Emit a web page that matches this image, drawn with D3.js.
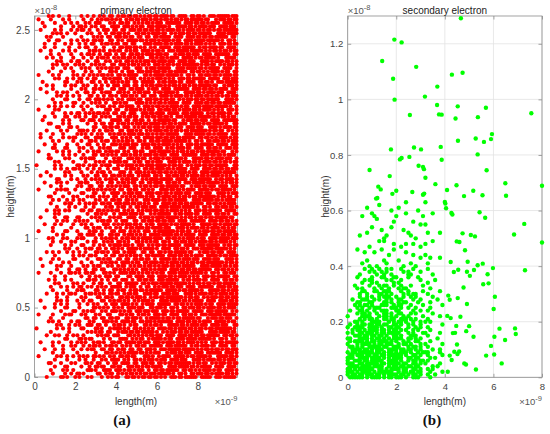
<!DOCTYPE html>
<html>
<head>
<meta charset="utf-8">
<script src="https://cdnjs.cloudflare.com/ajax/libs/d3/7.8.5/d3.min.js"></script>
<style>
  body { margin: 0; background: #fff; }
</style>
</head>
<body>
<svg id="fig" width="550" height="434"></svg>
<script>
/////////////////////////////////////////////////
// data /////////////////////////////////////////
/////////////////////////////////////////////////

// primary electron: occupancy, one hex row per 0.025e-8 m of height
// (top row first), each hex digit = 4 columns of 0.1e-9 m in length
const primaryRows = [
  "01484 124a65b 6ad bd9e6d3bf7", "20824 0895aa5 b75 ad6b7ec5db", "08212 4538536 55a e7f3db5e7d",
  "04041 34a63ce ace fa3ed7b9ee", "10242 5913999 db6 d7b5ed6b7f", "00548 828936a 36b d95db7e3df",
  "02820 1054ced 999 be79edb7e6", "01182 4a6c653 ed7 5eb3df7e9a", "04212 24c5acc c3d ed7b5ea9db",
  "04204 2622137 6a5 3e77e5bd9e", "10824 816a565 67a d3bf7ead6b", "00882 1349c99 b5e ec5db9e7f3",
  "02441 089695b 5c6 b5e7d6fa3e", "00142 62314a6 abb 7b9ee3d7b5", "00528 a8aa33a d69 d6b7fad95d",
  "00412 15156ce 397 7e3df6be79", "01041 0488693 9dd db7e6d5eb3", "20481 4956a6b e35 f7e9a6ed7b",
  "00289 32635e5 caa ea9dbf3e77", "08018 50c9356 67e 5bd9e6d3bf", "02412 8a249ce 656 ead6b7ec5d",
  "10402 146c339 bcb 9e7f3db5e7", "02128 4645c6a 5b9 6fa3ed7b9e", "00149 219269d a67 3d7b5ed6b7",
  "00418 233aa53 d9d ad95db7e3d", "00241 88a91ac 3d5 6be79edb7e", "01249 1216537 93a d5eb3df7e9",
  "20280 0881cc5 eae 6ed7b5ea9d", "00412 655a999 c76 f3e77e5bd9", "04218 a46546b 65b 6d3bf7ead6",
  "08024 19c83e6 6c9 7ec5db9e7f", "01824 022665a bb7 db5e7d6fa3", "00186 40636ce 56d d7b9ee3d7b",
  "02048 3a49a33 a95 ed6b7fad95", "10420 549456b dda b7e3df6be7", "10825 863c395 33e edb7e6d5eb",
  "00481 11a5956 9a6 df7e9a6ed7", "04208 43123ae e7b 5ea9dbf3e7", "00618 288ac39 c59 e5bd9e6d3b",
  "20124 22596ca 6c7 7ead6b7ec5", "01024 8866a9d 6bd b9e7f3db5e", "01814 15c1163 b65 d6fa3ed7b9",
  "00281 042a5ec 59a e3d7b5ed6b", "40240 6965c57 ade fad95db7e3", "00249 a2489c5 d36 f6be79edb7",
  "02014 1096439 3ab 6d5eb3df7e", "10812 0a3336b 979 a6ed7b5ea9", "00182 44a9696 e57 bf3e77e5bd",
  "04148 361465a ccd e6d3bf7ead", "00840 518caae 6b5 b7ec5db9e7", "20158 8355533 66a 3db5e7d6fa",
  "00204 18623cb b9e ed7b9ee3d7", "01821 42ca995 5d6 5ed6b7fad9", "00489 2829366 a3b db7e3df6be",
  "00816 2566cee da9 9edb7e6d5e", "00104 8441659 377 3df7e9a6ed", "02294 199aaca 95d b5ea9dbf3e",
  "00280 023513d ec5 7e5bd9e6d3", "10218 60a8563 cba f7ead6b7ec", "00128 aa16c9c 66e db9e7f3db5",
  "04241 1483957 696 7d6fa3ed7b", "00402 06594a5 bdb ee3d7b5ed6", "20418 4164339 539 7fad95db7e",
  "00120 33cc6cb aa7 df6be79edb", "01428 5825696 d7d e6d5eb3df7", "00442 8262a6a 355 9a6ed7b5ea",
  "00812 184a5ee 9ca dbf3e77e5b", "00014 4599353 ebe 9e6d3bf7ea", "02489 24369cb c66 6b7ec5db9e",
  "00201 29a1335 69b f3db5e7d6f", "10481 821ac66 6d9 3ed7b9ee3d", "00824 108569e b37 b5ed6b7fad",
  "08142 0a58a59 5ad 5db7e3df6b", "00104 64661aa a75 79edb7e6d5", "20846 a6c353d d5a b3df7e9a6e",
  "00210 1129cc3 3ce 7b5ea9dbf3", "01212 036499c 9b6 77e5bd9e6d", "00281 484c467 e6b bf7ead6b7e",
  "00849 32953e5 c99 5db9e7f3db", "00408 5832659 6d7 e7d6fa3ed7", "02126 85aa6cb 63d 9ee3d7b5ed",
  "00108 1419a36 ba5 b7fad95db7", "10148 498656a 57a 3df6be79ed", "00248 225139e a5e 7e6d5eb3df",
  "04218 206a953 dc6 e9a6ed7b5e", "00041 8ac53ab 3bb 9dbf3e77e5", "20416 1428c35 969 d9e6d3bf7e",
  "00820 06666c6 e97 d6b7ec5db9", "01482 6143a9e cdd 7f3db5e7d6", "00144 a399169 635 a3ed7b9ee3",
  "40124 18345ea 6aa 7b5ed6b7fa", "00804 02acc5d b7e 95db7e3df6", "02289 48159c3 556 e79edb7e6d",
  "00018 358243c acb eb3df7e9a6", "10482 545a367 db9 d7b5ea9dbf", "00422 8969695 367 e77e5bd9e6",
  "04221 12c6659 99d 3bf7ead6b7", "00420 4021aab ed5 c5db9e7f3d", "20149 2a6a536 c3a 5e7d6fa3ed",
  "00208 24453ca 6ae b9ee3d7b5e", "01842 869899e 676 6b7fad95db", "00218 1136363 b5b e3df6be79e",
  "00829 03a3ceb 5c9 b7e6d5eb3d", "00412 6819655 ab7 7e9a6ed7b5", "02068 a284ac6 d6d a9dbf3e77e"
];

// secondary electron, dense part (length < 4e-9, height < 0.64e-8):
// one hex row per 0.01e-8 m (top row = 0.63), each hex digit = 4 columns of 0.1e-9 m
const secondaryRows = [
  "0000008080", "0004000000", "0080040000", "0000200400", "0020008010",
  "0210080100", "0008000000", "0000101000", "0000000280", "0020200000",
  "0002010000", "0080004042", "0400802000", "0001000800", "0005000010",
  "0000109080", "0040020200", "0802100000", "0110008000", "0000401080",
  "0000000222", "0081040000", "0200802040", "0048010800",
  "0124a21040", "0052814200", "0409206010", "0823184400", "0160a20208",
  "0228140040", "1045922100", "0a12458020", "0319c24102", "0486a15840",
  "04a5c92810", "2394a61204", "0c61a58420", "15a3962101", "0a5c3a4820",
  "46938c1240", "0b49a62810", "83c5a94102", "0569b3a840", "1a3c5692a0",
  "4b6d9a5201", "9e7a6c4a40", "2d7b5a9420", "a6eb7c5182", "1db69a3840",
  "c7ad5e6a04", "5eb7a94c20", "8bd6e5a281", "6a7d9c5a40", "3dae7b6a12",
  "b7ed6ba5c2", "6edb7e9a41", "e7bd5e6c28", "9dbe7a5b40", "e6fb7d9a82",
  "7bde5b6c14", "d7e6bd9a50", "ebd7e5b621", "b6ed7b5a48", "7ebd6e9c20"
];

// secondary electron, scattered points [length 1e-9 m, height 1e-8 m]
const secondaryPoints = [
  [4.66, 1.292], [1.92, 1.215], [2.22, 1.205], [1.42, 1.138], [2.82, 1.117], [4.29, 1.089],
  [4.73, 1.096], [1.87, 1.074], [3.69, 1.046], [1.93, 0.999], [3.18, 1.010], [3.68, 0.980],
  [4.53, 0.975], [5.69, 0.970], [2.56, 0.944], [3.76, 0.946], [3.87, 0.945], [4.44, 0.931],
  [5.36, 0.936], [7.56, 0.950], [5.94, 0.875], [5.90, 0.857], [5.27, 0.859], [5.61, 0.847],
  [4.54, 0.851], [1.78, 0.820], [2.73, 0.827], [3.02, 0.820], [3.83, 0.829], [5.35, 0.802],
  [2.22, 0.789], [2.15, 0.784], [2.54, 0.793], [3.87, 0.783], [0.90, 0.746], [2.92, 0.761],
  [3.10, 0.757], [3.14, 0.749], [5.72, 0.745], [1.73, 0.724], [3.20, 0.718], [3.61, 0.695],
  [6.49, 0.698], [8.00, 0.689], [1.26, 0.686], [1.36, 0.676], [2.00, 0.671], [1.84, 0.660],
  [2.66, 0.667], [4.09, 0.674], [4.48, 0.691], [5.17, 0.671], [3.10, 0.657], [3.15, 0.661],
  [4.79, 0.652], [5.55, 0.655], [6.52, 0.653], [1.17, 0.643], [1.22, 0.645],
  [4.02, 0.625], [4.05, 0.608], [4.27, 0.591], [4.31, 0.586], [5.43, 0.594], [5.66, 0.574],
  [4.73, 0.518], [5.07, 0.512], [5.24, 0.507], [6.85, 0.514], [7.27, 0.552], [8.00, 0.485],
  [4.49, 0.489], [4.60, 0.487], [4.83, 0.457], [4.24, 0.415], [4.94, 0.416], [4.55, 0.387],
  [4.37, 0.379], [4.91, 0.380], [5.03, 0.365], [5.20, 0.386], [5.35, 0.403], [5.56, 0.409],
  [5.76, 0.371], [5.80, 0.338], [5.58, 0.335], [5.98, 0.393], [7.30, 0.385], [6.06, 0.290],
  [6.01, 0.246], [4.77, 0.323], [4.53, 0.285], [4.91, 0.264], [4.14, 0.294], [4.20, 0.279],
  [4.10, 0.221], [4.24, 0.213], [4.64, 0.218], [4.33, 0.159], [4.42, 0.160], [5.00, 0.184],
  [4.88, 0.166], [5.18, 0.146], [4.50, 0.118], [4.39, 0.092], [4.59, 0.093], [4.52, 0.084],
  [4.20, 0.078], [4.80, 0.050], [4.87, 0.046], [4.12, 0.020], [5.28, 0.028], [5.90, 0.113],
  [6.04, 0.146], [6.25, 0.175], [6.48, 0.134], [5.70, 0.078], [6.03, 0.082], [6.34, 0.050],
  [6.89, 0.176], [6.92, 0.156], [4.47, 0.185], [4.28, 0.062], [4.00, 0.631]
];

// axes
const primaryX = [0, 9.95], primaryY = [0, 2.6];
const secondaryX = [0, 8], secondaryY = [0, 1.3];
const primaryXTicks = [0, 2, 4, 6, 8];
const primaryYTicks = [0, 0.5, 1, 1.5, 2, 2.5];
const secondaryXTicks = [0, 2, 4, 6, 8];
const secondaryYTicks = [0, 0.2, 0.4, 0.6, 0.8, 1, 1.2];

/////////////////////////////////////////////////
// helpers //////////////////////////////////////
/////////////////////////////////////////////////

const svg = d3.select("#fig");
const SANS = "'Liberation Sans', Arial, sans-serif";

// hex rows -> [x, y] points
function decodeRows(rows, xStep, yStep) {
  const pts = [];
  const n = rows.length;
  rows.forEach((raw, i) => {
    const row = raw.replace(/\s/g, "");
    const y = (n - 1 - i) * yStep;
    for (let p = 0; p < row.length; p++) {
      const v = parseInt(row[p], 16);
      for (let k = 0; k < 4; k++) {
        if (v & (8 >> k)) pts.push([+((p * 4 + k) * xStep).toFixed(2), +y.toFixed(3)]);
      }
    }
  });
  return pts;
}

function expLabel(g, x, y, exp, anchor) {
  const t = g.append("text")
    .attr("x", x).attr("y", y)
    .style("font-family", SANS).style("font-size", "9.5px")
    .attr("fill", "#555").attr("text-anchor", anchor);
  t.append("tspan").text("\u00d710");
  t.append("tspan").attr("dy", -4.5).style("font-size", "7.5px").text(exp);
}

function drawPanel(o) {
  const x = d3.scaleLinear().domain(o.xDomain).range([o.left, o.right]);
  const y = d3.scaleLinear().domain(o.yDomain).range([o.bottom, o.top]);
  const g = svg.append("g");
  const fmt = d3.format("~g");

  // grid
  if (o.grid) {
    g.append("g").selectAll("line").data(o.xTicks).join("line")
      .attr("x1", d => x(d)).attr("x2", d => x(d))
      .attr("y1", o.top).attr("y2", o.bottom)
      .attr("stroke", "#e2e2e2").attr("stroke-width", 0.8);
    g.append("g").selectAll("line").data(o.yTicks).join("line")
      .attr("y1", d => y(d)).attr("y2", d => y(d))
      .attr("x1", o.left).attr("x2", o.right)
      .attr("stroke", "#e2e2e2").attr("stroke-width", 0.8);
  }

  // box
  g.append("rect")
    .attr("x", o.left).attr("y", o.top)
    .attr("width", o.right - o.left).attr("height", o.bottom - o.top)
    .attr("fill", "none").attr("stroke", "#8c8c8c").attr("stroke-width", 0.8);

  const style = sel => {
    sel.select(".domain").remove();
    sel.selectAll(".tick line").attr("stroke", "#8c8c8c").attr("stroke-width", 0.8);
    sel.selectAll(".tick text").attr("fill", "#444")
      .style("font-family", SANS).style("font-size", o.tickFont + "px");
  };

  g.append("g").attr("transform", `translate(0,${o.bottom})`)
    .call(d3.axisBottom(x).tickValues(o.xTicks).tickFormat(fmt)
      .tickSizeInner(-3.5).tickSizeOuter(0).tickPadding(6))
    .call(style);
  g.append("g").attr("transform", `translate(${o.left},0)`)
    .call(d3.axisLeft(y).tickValues(o.yTicks).tickFormat(fmt)
      .tickSizeInner(-3.5).tickSizeOuter(0).tickPadding(o.yPad))
    .call(style);
  g.append("g").attr("transform", `translate(0,${o.top})`)
    .call(d3.axisTop(x).tickValues(o.xTicks).tickFormat("")
      .tickSizeInner(-3.5).tickSizeOuter(0))
    .call(style);
  g.append("g").attr("transform", `translate(${o.right},0)`)
    .call(d3.axisRight(y).tickValues(o.yTicks).tickFormat("")
      .tickSizeInner(-3.5).tickSizeOuter(0))
    .call(style);

  // dots
  g.append("g").selectAll("circle").data(o.points).join("circle")
    .attr("cx", d => x(d[0])).attr("cy", d => y(d[1]))
    .attr("r", o.r).attr("fill", o.color);

  // texts
  const cx = (o.left + o.right) / 2, cy = (o.top + o.bottom) / 2;
  g.append("text").attr("x", cx).attr("y", 13.5).attr("text-anchor", "middle")
    .style("font-family", SANS).style("font-size", "10px").attr("fill", "#222").text(o.title);
  g.append("text").attr("x", cx).attr("y", 404.5).attr("text-anchor", "middle")
    .style("font-family", SANS).style("font-size", "10px").attr("fill", "#333").text("length(m)");
  g.append("text").attr("transform", `translate(${o.yLabelX},${cy}) rotate(-90)`)
    .attr("text-anchor", "middle")
    .style("font-family", SANS).style("font-size", "10px").attr("fill", "#333").text("height(m)");
  expLabel(g, o.left, 14, "-8", "start");
  expLabel(g, o.right, 405, "-9", "end");
  g.append("text").attr("x", o.subX).attr("y", 425).attr("text-anchor", "middle")
    .style("font-family", "'Liberation Serif', 'DejaVu Serif', serif")
    .style("font-weight", "bold").style("font-size", "15px").attr("fill", "#111").text(o.sub);
}

/////////////////////////////////////////////////
// panels ///////////////////////////////////////
/////////////////////////////////////////////////

drawPanel({
  left: 34.5, right: 237.5, top: 16, bottom: 377,
  xDomain: primaryX, yDomain: primaryY,
  xTicks: primaryXTicks, yTicks: primaryYTicks,
  grid: false, yPad: 4.5, yLabelX: 13.5, tickFont: 10,
  points: decodeRows(primaryRows, 0.1, 0.025),
  r: 2.1, color: "#ff0000",
  title: "primary electron", sub: "(a)", subX: 122
});

drawPanel({
  left: 347.7, right: 542, top: 16, bottom: 377.3,
  xDomain: secondaryX, yDomain: secondaryY,
  xTicks: secondaryXTicks, yTicks: secondaryYTicks,
  grid: true, yPad: 4.5, yLabelX: 328.5, tickFont: 9.5,
  points: decodeRows(secondaryRows, 0.1, 0.01).concat(secondaryPoints),
  r: 2.2, color: "#00ff00",
  title: "secondary electron", sub: "(b)", subX: 432
});
</script>
</body>
</html>
